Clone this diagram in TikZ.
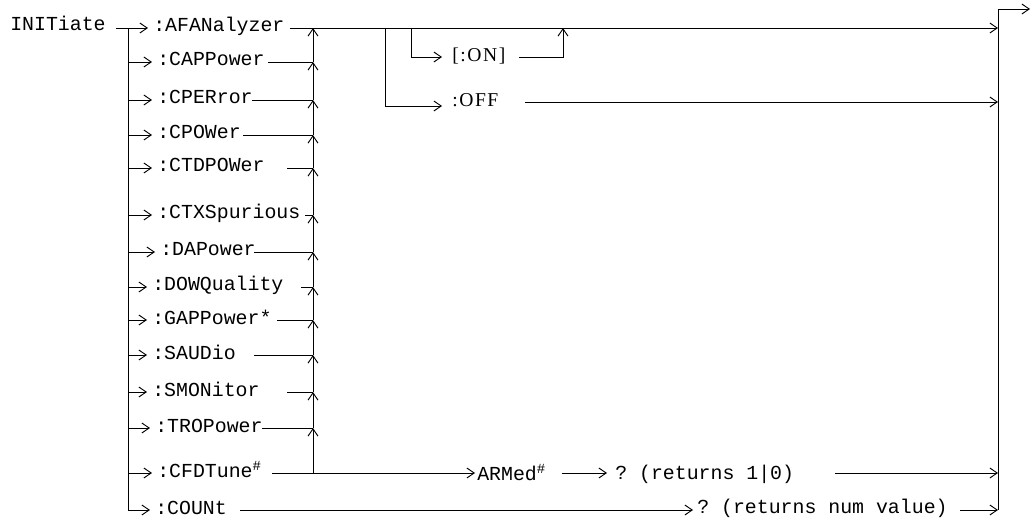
\documentclass[tikz,border=0pt]{standalone}
\usepackage{fontspec}
\setmonofont{Liberation Mono}
\newfontfamily\optfont{Liberation Serif}[LetterSpace=8]
\usetikzlibrary{arrows.meta}
\tikzset{
  cmd/.style={font=\ttfamily\fontsize{14.9}{18}\selectfont, inner sep=0pt, anchor=base west},
  opt/.style={font=\optfont\fontsize{14.7}{18}\selectfont, inner sep=0pt, anchor=base west},
  path/.style={draw=black, line width=0.7pt, solid},
  arr/.style={path, -{Straight Barb[length=5.5pt,width=7.5pt]}},
}
\begin{document}
\begin{tikzpicture}[x=0.75pt,y=-0.75pt]
  \useasboundingbox (0,0) rectangle (1032,524);
  % command root
  \node[cmd] (init) at (10,31) {INITiate};
  \coordinate (init-e) at (116,28);
  % sub-commands, one row each: name/text/line y/text x/line start
  \foreach \nm/\txt/\y/\tx/\e in {
      afan/:AFANalyzer/28/153/290,
      capp/:CAPPower/62/157/268,
      cper/:CPERror/100/157/252,
      cpow/:CPOWer/135/157/243,
      ctdp/:CTDPOWer/168/157/287,
      ctxs/:CTXSpurious/215/157/305,
      dapo/:DAPower/252/160/254,
      dowq/:DOWQuality/287/152/301,
      gapp/:GAPPower*/320/152/277,
      saud/:SAUDio/355/152/254,
      smon/:SMONitor/392/152/287,
      trop/:TROPower/428/155/262,
      cfd/:CFDTune\textsuperscript{\#}/473/157/272,
      count/:COUNt/510/155/240} {
    \node[cmd] (\nm) at (\tx,\y+4) {\txt};
    \coordinate (\nm-in) at (128,\y);
    \coordinate (\nm-tip) at (\tx-5,\y);
    \coordinate (\nm-out) at (\e,\y);
    \coordinate (\nm-j) at (313,\y);
    \draw[arr] (\nm-in) -- (\nm-tip);
  }
  \draw[path] (init-e) -- (afan-in) -- (count-in);
  % collector back to the top line
  \foreach \nm in {capp,cper,cpow,ctdp,ctxs,dapo,dowq,gapp,saud,smon,trop}
    \draw[path] (\nm-out) -- (\nm-j);
  \foreach \a/\b in {capp/afan,cper/capp,cpow/cper,ctdp/cpow,ctxs/ctdp,dapo/ctxs,
      dowq/dapo,gapp/dowq,saud/gapp,smon/saud,trop/smon,cfd/trop}
    \draw[arr] (\a-j) -- (\b-j);
  % right bus
  \coordinate (bus-top) at (998,9);
  \coordinate (exit) at (1030,9);
  \coordinate (afan-end) at (998,28);
  \draw[arr] (afan-out) -- (afan-end);
  % :ON / :OFF
  \node[opt] (on) at (452,62) {[:ON]};
  \node[opt] (off) at (452,107) {:OFF};
  \coordinate (on-split) at (411,28);
  \coordinate (on-corner) at (411,57);
  \coordinate (on-tip) at (442,57);
  \coordinate (on-out) at (519,57);
  \coordinate (on-up) at (563,57);
  \coordinate (on-join) at (563,28);
  \coordinate (off-split) at (385,28);
  \coordinate (off-corner) at (385,106);
  \coordinate (off-tip) at (442,106);
  \coordinate (off-out) at (525,102);
  \coordinate (off-end) at (998,102);
  \draw[arr] (on-split) -- (on-corner) -- (on-tip);
  \draw[arr] (on-out) -- (on-up) -- (on-join);
  \draw[arr] (off-split) -- (off-corner) -- (off-tip);
  \draw[arr] (off-out) -- (off-end);
  % ARMed query
  \node[cmd] (armed) at (477,480) {ARMed\textsuperscript{\#}};
  \node[cmd] (ret1) at (615,479) {? (returns 1|0)};
  \coordinate (armed-tip) at (475,473);
  \coordinate (armed-out) at (562,473);
  \coordinate (ret1-tip) at (607,473);
  \coordinate (ret1-out) at (835,473);
  \coordinate (ret1-end) at (998,473);
  \draw[arr] (cfd-out) -- (armed-tip);
  \draw[arr] (armed-out) -- (ret1-tip);
  \draw[arr] (ret1-out) -- (ret1-end);
  % COUNt query
  \node[cmd] (retn) at (697,513) {? (returns num value)};
  \coordinate (retn-tip) at (693,510);
  \coordinate (retn-out) at (960,510);
  \coordinate (count-end) at (998,510);
  \draw[arr] (count-out) -- (retn-tip);
  \draw[arr] (retn-out) -- (count-end);
  \draw[arr] (count-end) -- (bus-top) -- (exit);
\end{tikzpicture}
\end{document}
